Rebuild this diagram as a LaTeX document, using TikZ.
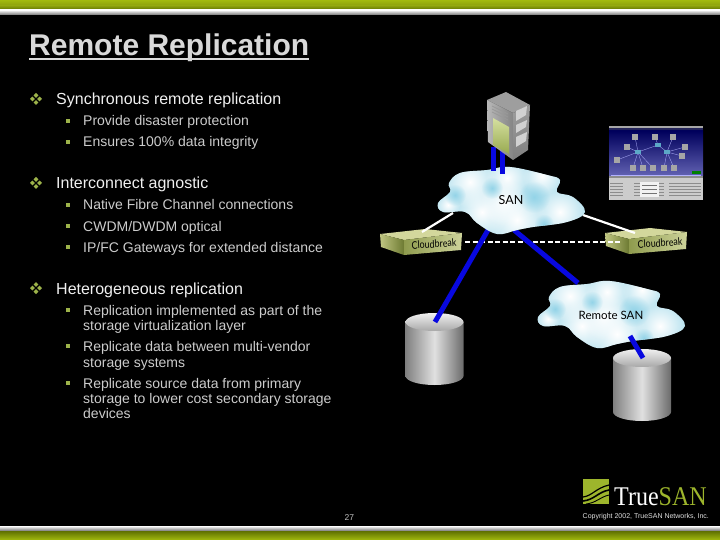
\documentclass[tikz,border=0pt]{standalone}
\usepackage{fontspec}
\setmainfont{Liberation Sans}
\newfontfamily\labelfont{Lato}
\newfontfamily\logofont{Liberation Serif}
\usetikzlibrary{
  positioning,
  fadings
}
\definecolor{barlime}{HTML}{A2BA0E}
\definecolor{bardark}{HTML}{5F7000}
\definecolor{bulletlime}{HTML}{9DB34A}
\definecolor{logolime}{HTML}{9DB52C}
\definecolor{linkblue}{HTML}{0808E0}
\definecolor{cloudbase}{HTML}{BCE4F0}
\definecolor{clouddeep}{HTML}{94D4E8}
\definecolor{boxtop}{HTML}{D3D79C}
\definecolor{boxsideA}{HTML}{C0C682}
\definecolor{boxsideB}{HTML}{6D7A32}
\definecolor{boxfrontA}{HTML}{8F9B4E}
\definecolor{boxfrontB}{HTML}{CDD39A}
\definecolor{panelA}{HTML}{D5E0A0}
\definecolor{panelB}{HTML}{98AA50}
\tikzfading[name=softspot,inner color=transparent!0,outer color=transparent!100]
\newcommand{\cloudoutline}{plot[smooth cycle,tension=0.65] coordinates {
  (-74,3) (-62,-8) (-63,-17) (-52,-27) (-25,-30) (-2,-33) (35,-25) (48,-20) (45,-8)
  (61,-3) (73,12) (55,22) (21,27) (5,30) (-15,34) (-35,23) (-47,12) (-69,12)}}
\tikzset{
  x=1pt,y=-1pt,
  headtext/.style={anchor=base west,inner sep=0pt,text=white!85!black,font=\fontsize{30}{32}\selectfont\bfseries},
  firsttext/.style={anchor=base west,inner sep=0pt,text=white!94!black,font=\fontsize{16}{18}\selectfont},
  secondtext/.style={anchor=base west,inner sep=0pt,text=white!80!black,font=\fontsize{14}{15}\selectfont},
  bluelink/.style={linkblue,line width=5pt},
  whitelink/.style={white,line width=2.2pt},
  cloudlabel/.style={inner sep=0pt,text=black,font=\labelfont\fontsize{12.5}{14}\selectfont},
  boxlabel/.style={inner sep=0pt,text=black,rotate=4,xscale=0.85,font=\labelfont\fontsize{10.5}{12}\selectfont},
  diamondpic/.pic={
    \foreach \dx/\dy in {0/-3.6,0/3.6,-3.6/0,3.6/0}
      \fill[bulletlime] (\dx-2.4,\dy) -- (\dx,\dy-2.4) -- (\dx+2.4,\dy) -- (\dx,\dy+2.4) -- cycle;
  },
  squarepic/.pic={
    \fill[bulletlime] (-2,-2) rectangle (2,2);
  },
  cloudpic/.pic={
    \fill[cloudbase] \cloudoutline;
    \begin{scope}
      \clip \cloudoutline;
      \foreach \cx/\cy/\r in {-42/-18/26,-5/-22/22,30/-24/20,-30/12/26,5/20/30,48/12/24,-8/2/24,-64/5/12}
        \fill[white,path fading=softspot] (\cx,\cy) circle[radius=\r pt];
      \foreach \cx/\cy/\r in {22/-3/16,-57/-5/11,-20/-12/11,32/24/10}
        \fill[clouddeep,path fading=softspot] (\cx,\cy) circle[radius=\r pt];
    \end{scope}
  },
  cylinderpic/.pic={
    \shade[left color=white!50!black,right color=white!42!black,middle color=white!88!black]
      (-29,0) -- (29,0) -- (29,54) arc[start angle=0,end angle=180,x radius=29pt,y radius=-9pt] -- cycle;
    \shade[top color=white!94!black,bottom color=white!66!black] (0,0) ellipse[x radius=29pt,y radius=9pt];
  },
  boxpic/.pic={
    \fill[boxtop] (0,0) -- (45,-5) -- (82,-1) -- (24,6) -- cycle;
    \shade[left color=boxsideA,right color=boxsideB] (0,0) -- (24,6) -- (24,21) -- (1,13) -- cycle;
    \shade[left color=boxfrontA,right color=boxfrontB] (24,6) -- (82,-1) -- (81,16) -- (24,21) -- cycle;
  },
  serverpic/.pic={
    \fill[white!62!black] (0,0) -- (19,-8) -- (43,5) -- (26,13) -- cycle;
    \shade[left color=white!72!black,right color=white!52!black] (0,0) -- (26,13) -- (26,60) -- (1,42) -- cycle;
    \shade[top color=white!62!black,bottom color=white!50!black] (26,13) -- (43,5) -- (41,50) -- (26,60) -- cycle;
    \shade[top color=panelA,bottom color=panelB] (6,18) -- (22,27) -- (22,54) -- (6,45) -- cycle;
    \foreach \gy in {6,9,12}
      \draw[white!60!black,line width=0.7pt] (5,\gy) -- (21,\gy+8);
    \foreach \ty/\by in {10/21,24/33,36/47}
      \fill[white!82!black] (29,\ty+1) -- (40,\ty-4) -- (39,\by-6) -- (29,\by) -- cycle;
  },
  screenpic/.pic={
    \fill[white!65!black] (0,0) rectangle (94,2);
    \fill[white!40!blue!35!black] (0,2) rectangle (94,5);
    \shade[top color=blue!60!black!60!black,bottom color=blue!45!white!70!black] (0,5) rectangle (94,50);
    \fill[white!80!black] (0,52) rectangle (94,74);
    \fill[white!55!black] (0,50) rectangle (94,52);
    \draw[white!70!blue,line width=0.3pt] (2,49) -- (92,49);
    \foreach \hx/\hy/\nx/\ny in {29/26/26/11,29/26/18/21,29/26/8/34,29/26/24/42,29/26/34/42,29/26/44/42,49/19/46/11,49/19/29/26,58/26/64/11,58/26/76/21,58/26/73/30,58/26/55/42,58/26/65/42,49/19/58/26}
      \draw[white!70!blue,line width=0.3pt] (\hx,\hy) -- (\nx,\ny);
    \foreach \nx/\ny in {26/11,46/11,64/11,18/21,8/34,76/21,73/30,24/42,34/42,44/42,55/42,65/42}
      \fill[white!65!black] (\nx-3,\ny-3) rectangle (\nx+3,\ny+3);
    \foreach \nx/\ny in {29/26,49/19,58/26}
      \fill[cyan!55!gray] (\nx-3,\ny-2) rectangle (\nx+3,\ny+2);
    \fill[green!50!black] (83,45) rectangle (92,48);
    \foreach \ly in {57,60,63,66,69}
      \draw[white!55!black,line width=0.4pt] (1,\ly) -- (14,\ly) (25,\ly) -- (55,\ly) (60,\ly) -- (92,\ly);
    \fill[white!95!black] (31,56) rectangle (50,71);
    \foreach \ly in {59,63,67}
      \draw[black!55,line width=0.4pt] (33,\ly) -- (48,\ly);
  }
}
\begin{document}
\begin{tikzpicture}
\useasboundingbox (0,0) rectangle (720,540);
\fill[black] (0,0) rectangle (720,540);

\shade[top color=barlime,bottom color=barlime!85!black] (0,0) rectangle (720,6);
\shade[top color=barlime!85!black,bottom color=bardark] (0,6) rectangle (720,10);
\shade[top color=white,bottom color=white!45!black] (0,10) rectangle (720,15);
\shade[top color=white,bottom color=white!45!black] (0,526) rectangle (720,531);
\shade[top color=bardark,bottom color=barlime] (0,531) rectangle (720,540);

\node[headtext] (title) at (29,56) {Remote Replication};
\draw[white!85!black,line width=1.8pt] ([yshift=-3pt]title.base west) -- ([yshift=-3pt]title.base east);

\foreach \y/\txt in {105/Synchronous remote replication,189/Interconnect agnostic,294/Heterogeneous replication}{
  \node[firsttext] (first\y) at (56,\y) {\txt};
  \pic at (36,\y-6) {diamondpic};
}
\foreach \y/\txt in {126/Provide disaster protection,147/Ensures 100\% data integrity,210/Native Fibre Channel connections,231/{CWDM/DWDM optical},252/{IP/FC Gateways for extended distance},315/Replication implemented as part of the,351/Replicate data between multi-vendor,388/Replicate source data from primary}{
  \node[secondtext] (second\y) at (83,\y) {\txt};
  \pic at (68,\y-5) {squarepic};
}
\foreach \y/\txt in {330/storage virtualization layer,367/storage systems,403/storage to lower cost secondary storage,418/devices}
  \node[secondtext] (second\y) at (83,\y) {\txt};

\coordinate (serverA) at (493,147);
\coordinate (serverB) at (502,151);
\coordinate (sanA) at (493,171);
\coordinate (sanB) at (502,174);
\coordinate (sanleft) at (453,213);
\coordinate (sanright) at (583,215);
\coordinate (sandiskL) at (488,230);
\coordinate (sandiskR) at (514,230);
\coordinate (remotetop) at (578,283);
\coordinate (remotedisk) at (630,336);
\coordinate (diskL) at (435,322);
\coordinate (diskR) at (643,358);
\coordinate (breakL) at (422,232);
\coordinate (breakR) at (635,233);
\coordinate (dashL) at (465,242);
\coordinate (dashR) at (620,242);

\pic at (609,126) {screenpic};
\pic at (380,234) {boxpic};
\pic at (605,233) {boxpic};
\pic at (434.5,322) {cylinderpic};
\pic at (642,358) {cylinderpic};
\pic at (612,314) {cloudpic};

\draw[white,line width=1.5pt,dash pattern=on 5pt off 2.5pt] (dashL) -- (dashR);
\draw[bluelink] (sandiskL) -- (diskL);
\draw[bluelink] (sandiskR) -- (remotetop);
\draw[bluelink] (remotedisk) -- (diskR);
\draw[whitelink] (sanleft) -- (breakL);
\draw[whitelink] (sanright) -- (breakR);

\pic at (512,200) {cloudpic};
\draw[bluelink] (serverA) -- (sanA);
\draw[bluelink] (serverB) -- (sanB);
\pic at (487,100) {serverpic};

\node[cloudlabel] (san) at (511,200) {SAN};
\node[cloudlabel,font=\labelfont\fontsize{11.5}{14}\selectfont] (remotesan) at (611,315) {Remote SAN};
\node[boxlabel] (cloudbreakL) at (434,244) {Cloudbreak};
\node[boxlabel] (cloudbreakR) at (660,243) {Cloudbreak};

\begin{scope}
  \clip (583,479) rectangle (609,504);
  \fill[logolime] (583,479) rectangle (609,504);
  \draw[black,line width=1.2pt] (583,497) .. controls (592,496) and (596,488) .. (609,485);
  \draw[black,line width=1.6pt] (583,501) .. controls (594,500) and (598,492) .. (609,490);
  \draw[black,line width=0.9pt] (586,504) .. controls (596,503) and (600,497) .. (609,495);
\end{scope}
\node[anchor=base west,inner sep=0pt,text=white,xscale=0.89,font=\logofont\fontsize{27}{30}\selectfont] (truelogo) at (614,505) {True\textcolor{logolime}{SAN}};
\node[anchor=base west,inner sep=0pt,text=white!88!black,font=\fontsize{7}{9}\selectfont] (copyright) at (582.5,518) {Copyright 2002, TrueSAN Networks, Inc.};
\node[anchor=base west,inner sep=0pt,text=white!75!black,font=\fontsize{8.5}{10}\selectfont] (pagenum) at (344.5,520) {27};
\end{tikzpicture}
\end{document}
